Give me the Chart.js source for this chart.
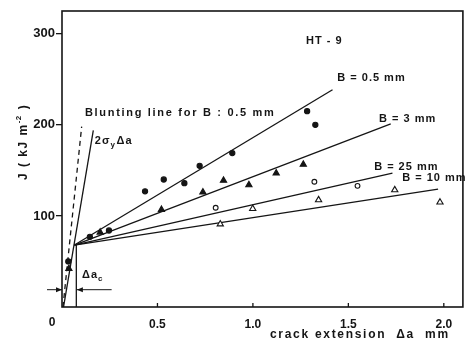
<!DOCTYPE html>
<html>
<head>
<meta charset="utf-8">
<script src="https://cdn.jsdelivr.net/npm/chart.js@4/dist/chart.umd.min.js"></script>
<style>
html,body{margin:0;padding:0;background:#fff;}
#wrap{width:468px;height:342px;}
</style>
</head>
<body>
<div id="wrap"><canvas id="c" width="468" height="342"></canvas></div>
<script>
// ---- data ----
const xTickValues = [0, 0.5, 1.0, 1.5, 2.0];
const yTickValues = [100, 200, 300];

// B = 0.5 mm : filled circles
const b05 = [[0.033,50],[0.146,77],[0.246,84],[0.435,127],[0.533,140],[0.641,136],[0.721,155],[0.892,169],[1.284,215],[1.327,200]];
// B = 3 mm : filled triangles
const b3 = [[0.036,42],[0.2,82],[0.521,107],[0.738,126],[0.846,139],[0.979,134],[1.122,147],[1.264,156.5]];
// B = 25 mm : open circles
const b25 = [[0.805,109],[1.322,137.5],[1.548,133]];
// B = 10 mm : open triangles
const b10 = [[0.829,91],[0.999,108],[1.344,117.5],[1.743,128.5],[1.98,115]];

// fitted R-curves
const fit05 = [[0.065,68],[1.417,238.5]];
const fit3  = [[0.065,68],[1.722,201]];
const fit25 = [[0.065,68],[1.731,147]];
const fit10 = [[0.065,68],[1.97,129.5]];
// blunting lines
const bluntSolid  = [[0.008,0],[0.164,194]];
const bluntDashed = [[0.005,0],[0.103,198]];
// critical crack extension marker
const dacLine = [[0.075,0],[0.075,68]];

const toPts = a => a.map(p => ({x:p[0], y:p[1]}));
const INK = '#151515';
const LBL = 'bold 11px "Liberation Sans", sans-serif';

function lineDs(arr, dash){
  return {data: toPts(arr), showLine:true, pointRadius:0, borderColor:INK, borderWidth:1.3,
          borderDash: dash || [], fill:false};
}
function ptDs(arr, style, filled, r){
  return {data: toPts(arr), showLine:false, pointStyle:style, pointRadius:r,
          pointBackgroundColor: filled ? INK : '#fff', pointBorderColor: INK, pointBorderWidth:1.1};
}

const deco = {
  id:'deco',
  afterDraw(chart){
    const {ctx, chartArea:a, scales:{x, y}} = chart;
    const X = v => x.getPixelForValue(v), Y = v => y.getPixelForValue(v);
    ctx.save();
    ctx.strokeStyle = INK; ctx.fillStyle = INK;
    // frame
    ctx.lineWidth = 1.6;
    ctx.strokeRect(a.left, a.top, a.right - a.left, a.bottom - a.top);
    // inward x ticks
    ctx.lineWidth = 1.3;
    xTickValues.forEach(v => { if (v > 0) { ctx.beginPath(); ctx.moveTo(X(v), a.bottom); ctx.lineTo(X(v), a.bottom - 4); ctx.stroke(); }});
    // "0" label
    ctx.font = 'bold 12px "Liberation Sans", sans-serif';
    ctx.textAlign = 'center'; ctx.textBaseline = 'middle';
    ctx.fillText('0', X(0) - 10, a.bottom + 16);

    function txt(s, px, py, font, align, ls){
      ctx.font = font || LBL; ctx.textAlign = align || 'left'; ctx.textBaseline = 'middle';
      ctx.letterSpacing = (ls === undefined ? 1 : ls) + 'px';
      ctx.fillText(s, px, py);
      const w = ctx.measureText(s).width;
      ctx.letterSpacing = '0px';
      return w;
    }
    // curve labels
    txt('B = 0.5 mm', X(1.442), Y(252));
    txt('B = 3 mm',   X(1.661), Y(207));
    txt('B = 25 mm',  X(1.635), Y(154));
    txt('B = 10 mm',  X(1.782), Y(142));
    txt('HT - 9', X(1.374), Y(292), LBL, 'center');
    txt('Blunting line for B : 0.5 mm', X(0.12), Y(213.5), LBL, 'left', 1.7);
    // 2σy Δa
    let px = X(0.172), py = Y(182);
    px += txt('2σ', px, py);
    txt('y', px, py + 4, 'bold 8px "Liberation Sans", sans-serif', 'left', 0);
    txt('Δa', px + 6, py);
    // Δa_c
    px = X(0.105); py = Y(35);
    px += txt('Δa', px, py);
    txt('c', px, py + 4, 'bold 8px "Liberation Sans", sans-serif', 'left', 0);

    // arrows for Δa_c
    const ay = Y(19);
    function arrow(x1, x2){
      ctx.lineWidth = 1; ctx.beginPath(); ctx.moveTo(x1, ay); ctx.lineTo(x2, ay); ctx.stroke();
      const d = x2 > x1 ? -1 : 1;
      ctx.beginPath(); ctx.moveTo(x2, ay); ctx.lineTo(x2 + d*6, ay - 2.5); ctx.lineTo(x2 + d*6, ay + 2.5); ctx.closePath(); ctx.fill();
    }
    arrow(X(0) - 15, X(0));
    arrow(X(0.26), X(0.078));

    // axis titles
    txt('crack extension  Δa  mm', 270, a.bottom + 28, 'bold 12px "Liberation Sans", sans-serif', 'left', 1.7);
    ctx.save();
    ctx.translate(24, 180);
    ctx.rotate(-Math.PI/2);
    let w = txt('J ( kJ m', 0, 0, 'bold 12px "Liberation Sans", sans-serif', 'left', 1.5);
    let w2 = txt('-2', w, -5, 'bold 8px "Liberation Sans", sans-serif', 'left', 0.5);
    txt(' )', w + w2 + 1, 0, 'bold 12px "Liberation Sans", sans-serif', 'left', 1.5);
    ctx.restore();
    ctx.restore();
  }
};

new Chart(document.getElementById('c'), {
  type: 'scatter',
  data: {
    datasets: [
      ptDs(b05, 'circle', true, 2.6),
      ptDs(b3, 'triangle', true, 3.6),
      ptDs(b25, 'circle', false, 2.4),
      ptDs(b10, 'triangle', false, 3.6),
      lineDs(fit05), lineDs(fit3), lineDs(fit25), lineDs(fit10),
      lineDs(bluntSolid), lineDs(bluntDashed, [5,4]), lineDs(dacLine)
    ]
  },
  options: {
    responsive: false,
    animation: false,
    devicePixelRatio: 1,
    layout: {padding: {top: 11, right: 3, left: 0, bottom: 0}},
    plugins: {legend: {display: false}, tooltip: {enabled: false}},
    scales: {
      x: {
        type: 'linear', min: 0, max: 2.1,
        afterFit(s){ s.height = 35; },
        border: {display: false},
        grid: {display: false},
        afterBuildTicks(s){ s.ticks = xTickValues.map(v => ({value: v})); },
        ticks: {includeBounds: false, padding: 2, color: INK, maxRotation: 0,
                font: {family: 'Liberation Sans', size: 12, weight: 'bold'},
                callback: v => v === 0 ? '' : Number(v).toFixed(1)}
      },
      y: {
        type: 'linear', min: 0, max: 325,
        afterFit(s){ s.width = 62; },
        border: {display: false},
        grid: {drawOnChartArea: false, drawTicks: true, tickLength: 6, lineWidth: 1.3, color: INK},
        afterBuildTicks(s){ s.ticks = yTickValues.map(v => ({value: v})); },
        ticks: {includeBounds: false, padding: 1, color: INK,
                font: {family: 'Liberation Sans', size: 13, weight: 'bold'}}
      }
    }
  },
  plugins: [deco]
});
</script>
</body>
</html>
